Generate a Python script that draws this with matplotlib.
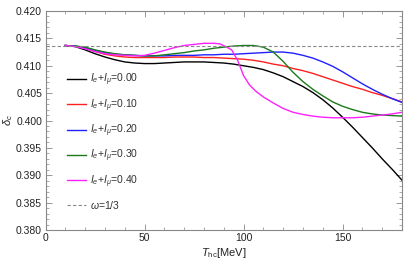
import numpy as np
import matplotlib
matplotlib.use('Agg')
from matplotlib import pyplot as plt
from matplotlib.ticker import MultipleLocator

plt.rcParams['font.family'] = ['Liberation Sans', 'DejaVu Sans']
plt.rcParams['mathtext.fontset'] = 'custom'
plt.rcParams['mathtext.rm'] = 'Liberation Sans'
plt.rcParams['mathtext.it'] = 'Liberation Sans:italic'

T = np.array([10, 15, 20, 25, 30, 35, 40, 45, 50, 55, 60, 65, 70, 75, 80, 85, 90,
              95, 100, 105, 110, 115, 120, 125, 130, 135, 140, 145, 150, 155,
              160, 165, 170, 175, 180])

d_000 = [0.4137, 0.4135, 0.4129, 0.4122, 0.4116, 0.4111, 0.4107, 0.4105, 0.4104,
         0.4104, 0.4105, 0.4106, 0.4107, 0.4107, 0.4107, 0.4106, 0.4105, 0.4103,
         0.4100, 0.4097, 0.4093, 0.4087, 0.4080, 0.4071, 0.4062, 0.4051, 0.4038,
         0.4023, 0.4006, 0.3988, 0.3969, 0.3950, 0.3930, 0.3911, 0.3891]
d_010 = [0.4137, 0.4136, 0.4132, 0.4126, 0.4121, 0.4118, 0.4116, 0.4115, 0.4115,
         0.4115, 0.4115, 0.4116, 0.4116, 0.4116, 0.4115, 0.4115, 0.4114, 0.4113,
         0.4112, 0.4110, 0.4107, 0.4103, 0.4100, 0.4095, 0.4091, 0.4086, 0.4080,
         0.4074, 0.4068, 0.4062, 0.4057, 0.4051, 0.4046, 0.4040, 0.4034]
d_020 = [0.4137, 0.4136, 0.4133, 0.4128, 0.4124, 0.4121, 0.4120, 0.4119, 0.4118,
         0.4118, 0.4118, 0.4119, 0.4119, 0.4119, 0.4120, 0.4120, 0.4121, 0.4121,
         0.4122, 0.4123, 0.4124, 0.4125, 0.4125, 0.4123, 0.4119, 0.4114, 0.4107,
         0.4099, 0.4089, 0.4078, 0.4067, 0.4057, 0.4048, 0.4040, 0.4033]
d_030 = [0.4137, 0.4136, 0.4134, 0.4129, 0.4125, 0.4122, 0.4120, 0.4119, 0.4118,
         0.4118, 0.4120, 0.4122, 0.4124, 0.4127, 0.4129, 0.4132, 0.4134, 0.4136,
         0.4137, 0.4137, 0.4134, 0.4125, 0.4108, 0.4088, 0.4071, 0.4057, 0.4045,
         0.4034, 0.4026, 0.4020, 0.4015, 0.4012, 0.4010, 0.4009, 0.4008]

T_040 = np.array([10, 15, 20, 25, 30, 35, 40, 45, 50, 55, 60, 65, 70, 75, 80, 85,
                  88, 91, 94, 97, 100, 103, 106, 110, 115, 120, 125, 130, 135, 140,
                  145, 150, 155, 160, 165, 170, 175, 180])
d_040 = [0.4137, 0.4135, 0.4131, 0.4126, 0.4122, 0.4120, 0.4119, 0.4118, 0.4119,
         0.4123, 0.4128, 0.4133, 0.4137, 0.4139, 0.4141, 0.4141, 0.4140, 0.4135,
         0.4129, 0.4110, 0.4082, 0.4065, 0.4054, 0.4043, 0.4032, 0.4022, 0.4015,
         0.4011, 0.4008, 0.4006, 0.4005, 0.4005, 0.4005, 0.4006, 0.4008, 0.4010,
         0.4012, 0.4015]

omega_line = 0.41367

series = [(T, d_000, 'black', '0.00'), (T, d_010, '#ff2020', '0.10'),
          (T, d_020, '#2020ff', '0.20'), (T, d_030, '#1a7a1a', '0.30'),
          (T_040, d_040, '#ff20ff', '0.40')]

fig = plt.figure(figsize=(4.07, 2.64), dpi=100)
ax = fig.add_axes([0.1118, 0.1288, 0.8759, 0.8295])

for tx, dy, c, lab in series:
    ax.plot(tx, dy, color=c, lw=1.0, label=r'$I_e$+$I_\mu$=' + lab)
ax.axhline(omega_line, color='#888888', lw=0.8, ls=(0, (3, 2)), label=r'$\omega$=1/3')

ax.set_xlim(0, 180)
ax.set_ylim(0.380, 0.420)
ax.xaxis.set_major_locator(MultipleLocator(50))
ax.xaxis.set_minor_locator(MultipleLocator(10))
ax.yaxis.set_major_locator(MultipleLocator(0.005))
ax.yaxis.set_minor_locator(MultipleLocator(0.001))
ax.yaxis.set_major_formatter(plt.FormatStrFormatter('%.3f'))
ax.tick_params(which='both', direction='in', top=True, right=True,
               color='#888888', labelsize=7.5, labelcolor='#222222', pad=2.5)
ax.tick_params(which='major', length=4, width=0.6)
ax.tick_params(which='minor', length=2, width=0.5)
for s in ax.spines.values():
    s.set_color('#888888')
    s.set_linewidth(0.8)

ax.set_xlabel(r'$T_{\rm hc}$[MeV]', fontsize=8, color='#222222', labelpad=2)
ax.set_ylabel(r'$\delta_c$', fontsize=8, color='#222222', labelpad=1)

ax.legend(loc='upper left', bbox_to_anchor=(0.035, 0.765), frameon=False,
          fontsize=7.5, handlelength=1.8, labelspacing=0.86, handletextpad=0.4,
          labelcolor='#333333')

fig.savefig('out.png', dpi=100)
